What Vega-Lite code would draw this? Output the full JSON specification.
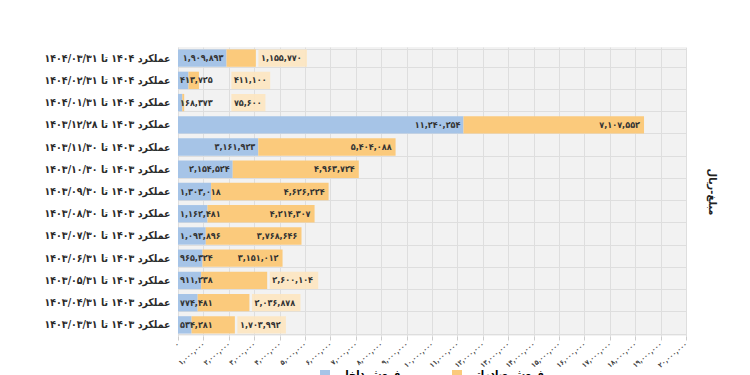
{
  "$schema": "https://vega.github.io/schema/vega-lite/v6.json",
  "width": 508,
  "height": 289,
  "padding": {"left": 44, "top": 42, "right": 5, "bottom": 5},
  "background": "white",
  "config": {
    "font": "'DejaVu Sans Condensed', 'DejaVu Sans'",
    "view": {"fill": "#f2f2f2", "stroke": null},
    "legend": {"layout": {"bottom": {"anchor": "middle"}}}
  },
  "data": {
    "values": [
      {"period": "عملکرد ۱۴۰۴ تا ۱۴۰۴/۰۳/۳۱", "domestic": 1909893, "export": 1155770},
      {"period": "عملکرد ۱۴۰۴ تا ۱۴۰۴/۰۲/۳۱", "domestic": 413725, "export": 411100},
      {"period": "عملکرد ۱۴۰۴ تا ۱۴۰۴/۰۱/۳۱", "domestic": 168373, "export": 75600},
      {"period": "عملکرد ۱۴۰۳ تا ۱۴۰۳/۱۲/۲۸", "domestic": 11240254, "export": 7107552},
      {"period": "عملکرد ۱۴۰۳ تا ۱۴۰۳/۱۱/۳۰", "domestic": 3161923, "export": 5404088},
      {"period": "عملکرد ۱۴۰۳ تا ۱۴۰۳/۱۰/۳۰", "domestic": 2154524, "export": 4963724},
      {"period": "عملکرد ۱۴۰۳ تا ۱۴۰۳/۰۹/۳۰", "domestic": 1303018, "export": 4626224},
      {"period": "عملکرد ۱۴۰۳ تا ۱۴۰۳/۰۸/۳۰", "domestic": 1162481, "export": 4214307},
      {"period": "عملکرد ۱۴۰۳ تا ۱۴۰۳/۰۷/۳۰", "domestic": 1093896, "export": 3768646},
      {"period": "عملکرد ۱۴۰۳ تا ۱۴۰۳/۰۶/۳۱", "domestic": 965324, "export": 3151012},
      {"period": "عملکرد ۱۴۰۳ تا ۱۴۰۳/۰۵/۳۱", "domestic": 911238, "export": 2600104},
      {"period": "عملکرد ۱۴۰۳ تا ۱۴۰۳/۰۴/۳۱", "domestic": 774481, "export": 2036878},
      {"period": "عملکرد ۱۴۰۳ تا ۱۴۰۳/۰۳/۳۱", "domestic": 534281, "export": 1703992}
    ]
  },
  "transform": [
    {"calculate": "datum.domestic + datum.export", "as": "total"},
    {"calculate": "replace(replace(replace(replace(replace(replace(replace(replace(replace(replace(format(datum.domestic, ','),regexp('0','g'),'۰'),regexp('1','g'),'۱'),regexp('2','g'),'۲'),regexp('3','g'),'۳'),regexp('4','g'),'۴'),regexp('5','g'),'۵'),regexp('6','g'),'۶'),regexp('7','g'),'۷'),regexp('8','g'),'۸'),regexp('9','g'),'۹')", "as": "dLabel"},
    {"calculate": "replace(replace(replace(replace(replace(replace(replace(replace(replace(replace(format(datum.export, ','),regexp('0','g'),'۰'),regexp('1','g'),'۱'),regexp('2','g'),'۲'),regexp('3','g'),'۳'),regexp('4','g'),'۴'),regexp('5','g'),'۵'),regexp('6','g'),'۶'),regexp('7','g'),'۷'),regexp('8','g'),'۸'),regexp('9','g'),'۹')", "as": "eLabel"},
    {"calculate": "max(datum.total, 2000000) + 200000", "as": "eOutStart"},
    {"calculate": "datum.eOutStart - 100000", "as": "boxStart"},
    {"calculate": "datum.eOutStart + length(datum.eLabel) * 190000 + 100000", "as": "boxEnd"},
    {"calculate": "0", "as": "zero"}
  ],
  "layer": [
    {
      "transform": [
        {"fold": ["domestic", "export"], "as": ["key", "value"]},
        {"calculate": "datum.key === 'domestic' ? 'فروش داخلی' : 'فروش صادراتی'", "as": "series"},
        {"calculate": "datum.key === 'domestic' ? 0 : 1", "as": "ord"}
      ],
      "mark": {"type": "bar"},
      "encoding": {
        "y": {
          "field": "period", "type": "nominal", "sort": null,
          "scale": {"paddingInner": 0.22, "paddingOuter": 0.11},
          "axis": {
            "title": null, "orient": "left", "labelFontSize": 10.5, "labelFontWeight": "bold",
            "labelColor": "#2a2a2a", "labelPadding": 8, "ticks": false, "domain": false,
            "grid": true, "tickBand": "extent", "gridColor": "#dedede", "gridWidth": 1
          }
        },
        "x": {
          "field": "value", "type": "quantitative", "stack": "zero", "title": null,
          "scale": {"domain": [0, 20000000], "nice": false},
          "axis": {
            "tickCount": 21,
            "values": [0, 1000000, 2000000, 3000000, 4000000, 5000000, 6000000, 7000000, 8000000, 9000000, 10000000, 11000000, 12000000, 13000000, 14000000, 15000000, 16000000, 17000000, 18000000, 19000000, 20000000],
            "labelExpr": "replace(replace(replace(replace(replace(replace(replace(replace(replace(replace(format(datum.value, ','),regexp('0','g'),'۰'),regexp('1','g'),'۱'),regexp('2','g'),'۲'),regexp('3','g'),'۳'),regexp('4','g'),'۴'),regexp('5','g'),'۵'),regexp('6','g'),'۶'),regexp('7','g'),'۷'),regexp('8','g'),'۸'),regexp('9','g'),'۹')",
            "labelAngle": -40, "labelAlign": "right", "labelBaseline": "middle",
            "labelFontSize": 7, "labelFontWeight": "bold", "labelColor": "#444", "labelPadding": 3,
            "labelOverlap": false, "labelBound": false, "labelFlush": false,
            "grid": true, "gridColor": "#dedede", "gridWidth": 1,
            "domain": false, "ticks": true, "tickColor": "#cccccc", "tickSize": 4
          }
        },
        "color": {
          "field": "series", "type": "nominal",
          "scale": {"domain": ["فروش داخلی", "فروش صادراتی"], "range": ["#a6c4e7", "#fbca7c"]},
          "legend": {
            "title": null, "orient": "bottom", "direction": "horizontal",
            "symbolType": "square", "labelFontSize": 11, "labelFontWeight": "bold",
            "columnPadding": 50, "offset": 0
          }
        },
        "order": {"field": "ord", "type": "quantitative"}
      }
    },
    {
      "transform": [{"filter": "datum.export < 3000000"}],
      "mark": {"type": "bar", "color": "#fde6c0", "opacity": 0.9},
      "encoding": {
        "y": {"field": "period", "type": "nominal", "sort": null, "axis": null},
        "x": {"field": "boxStart", "type": "quantitative", "title": null},
        "x2": {"field": "boxEnd"}
      }
    },
    {
      "transform": [{"filter": "datum.domestic >= 1850000"}],
      "mark": {"type": "text", "align": "right", "baseline": "middle", "dx": -3, "fontSize": 9, "fontWeight": "bold", "color": "#333"},
      "encoding": {
        "y": {"field": "period", "type": "nominal", "sort": null, "axis": null},
        "x": {"field": "domestic", "type": "quantitative", "title": null},
        "text": {"field": "dLabel"}
      }
    },
    {
      "transform": [{"filter": "datum.domestic < 1850000"}],
      "mark": {"type": "text", "align": "left", "baseline": "middle", "dx": 2, "fontSize": 9, "fontWeight": "bold", "color": "#333"},
      "encoding": {
        "y": {"field": "period", "type": "nominal", "sort": null, "axis": null},
        "x": {"field": "zero", "type": "quantitative", "title": null},
        "text": {"field": "dLabel"}
      }
    },
    {
      "transform": [{"filter": "datum.export >= 3000000"}],
      "mark": {"type": "text", "align": "right", "baseline": "middle", "dx": -4, "fontSize": 9, "fontWeight": "bold", "color": "#333"},
      "encoding": {
        "y": {"field": "period", "type": "nominal", "sort": null, "axis": null},
        "x": {"field": "total", "type": "quantitative", "title": null},
        "text": {"field": "eLabel"}
      }
    },
    {
      "transform": [{"filter": "datum.export < 3000000"}],
      "mark": {"type": "text", "align": "left", "baseline": "middle", "dx": 0, "fontSize": 9, "fontWeight": "bold", "color": "#333"},
      "encoding": {
        "y": {
          "field": "period", "type": "nominal", "sort": null,
          "axis": {"orient": "right", "labels": false, "ticks": false, "domain": false, "grid": false,
                   "title": "مبلغ-ریال", "titleAngle": 90, "titleFontSize": 11, "titleFontWeight": "bold",
                   "titleColor": "#222", "titlePadding": 20}
        },
        "x": {"field": "eOutStart", "type": "quantitative", "title": null},
        "text": {"field": "eLabel"}
      }
    }
  ],
  "resolve": {"axis": {"y": "independent"}}
}
